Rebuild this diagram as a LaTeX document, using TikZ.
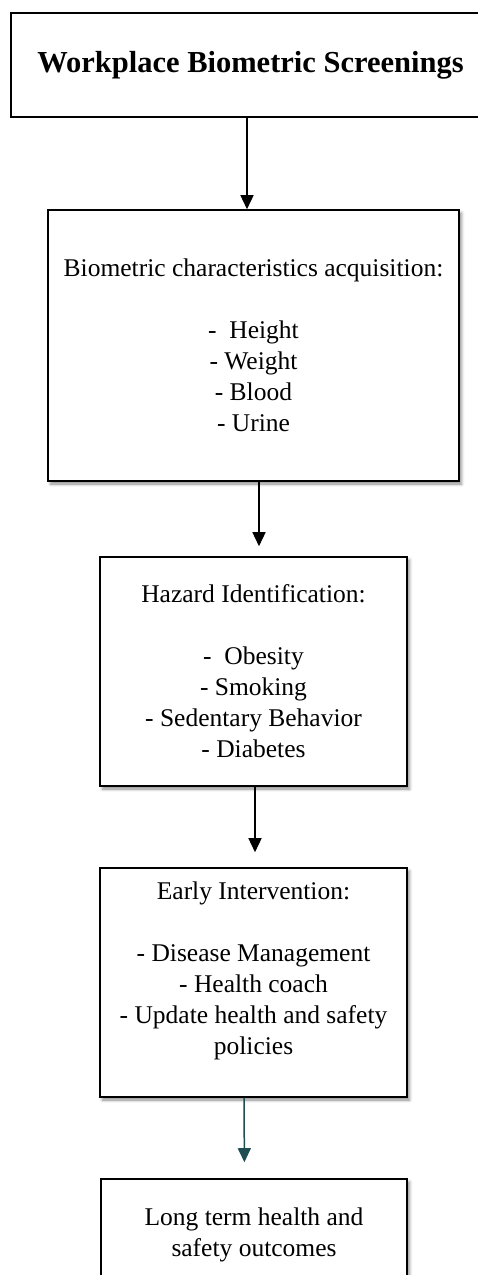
\documentclass[tikz,border=0pt]{standalone}
\usepackage{fontspec}
\setmainfont{Liberation Serif}
\usepackage{xcolor}
\usetikzlibrary{arrows.meta,shadows.blur}
\definecolor{arrowteal}{RGB}{31,77,82}

\begin{document}
\begin{tikzpicture}[
  x=1pt,y=-1pt,
  font=\fontsize{25.5}{31}\selectfont,
  box/.style={rectangle,draw,line width=1.6pt,align=center,inner sep=0pt,fill=white,
              blur shadow={shadow xshift=2.5pt,shadow yshift=-3pt,shadow blur radius=3pt,shadow opacity=45}},
  headbox/.style={rectangle,draw,line width=1.4pt,align=center,inner sep=0pt,fill=white,
                  font=\bfseries\fontsize{30.5}{36}\selectfont},
  arr/.style={-{Triangle[length=14pt,width=13pt]},line width=1.5pt}
]
\useasboundingbox (0,0) rectangle (478,1275);
% title box, right side runs off the page
\node[headbox,minimum width=479pt,minimum height=104pt] (title) at (250.5,65) {Workplace Biometric Screenings};
% process boxes
\node[box,minimum width=411pt,minimum height=271pt] (acq) at (253.5,345.5)
  {Biometric characteristics acquisition:\\[31pt] -~~Height\\- Weight\\- Blood\\- Urine};
\node[box,minimum width=307pt,minimum height=229pt] (hazard) at (253.5,671.5)
  {Hazard Identification:\\[31pt] -~~Obesity\\- Smoking\\- Sedentary Behavior\\- Diabetes};
\node[box,minimum width=307pt,minimum height=229pt] (interv) at (253.5,982.5)
  {Early Intervention:\\[31pt] - Disease Management\\- Health coach\\- Update health and safety\\policies\rule[-28pt]{0pt}{28pt}};
\node[box,minimum width=306pt,minimum height=111pt] (outcome) at (254,1234.5)
  {Long term health and\\safety outcomes};
% arrows
\draw[arr] ([xshift=-3.5pt]title.south) -- ([xshift=-6.5pt]acq.north);
\draw[arr,shorten >=10pt] ([xshift=5.5pt]acq.south) -- ([xshift=5.5pt]hazard.north);
\draw[arr,shorten >=15pt] ([xshift=1.5pt]hazard.south) -- ([xshift=1.5pt]interv.north);
\draw[arr,arrowteal,shorten >=16pt] ([xshift=-9.5pt]interv.south) -- ([xshift=-9.5pt]outcome.north);
\end{tikzpicture}
\end{document}
